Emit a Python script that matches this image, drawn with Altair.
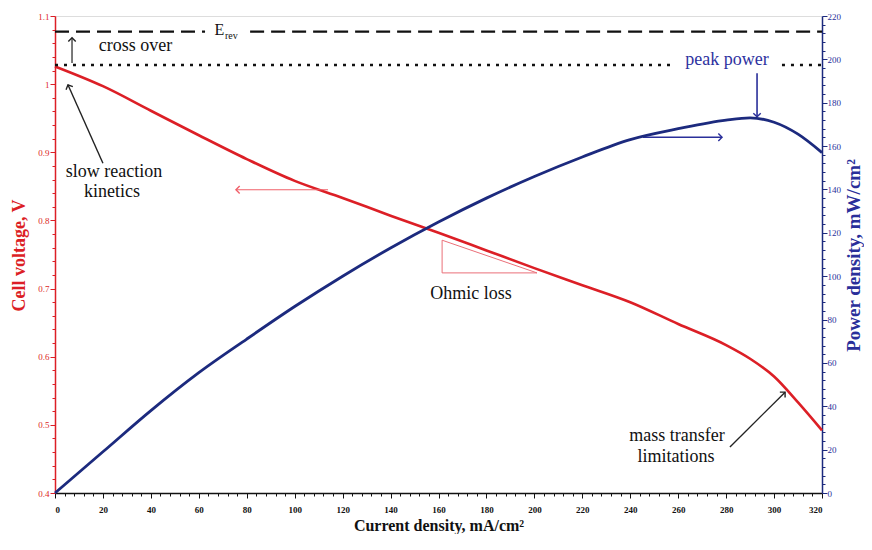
import altair as alt
import pandas as pd

# ---- data ----
current = [0, 20, 40, 60, 80, 100, 120, 140, 160, 180, 200, 220, 240, 260, 280, 290, 300, 310, 320]
voltage = [1.026, 0.997, 0.961, 0.925, 0.890, 0.858, 0.833, 0.807, 0.782, 0.756, 0.730,
           0.705, 0.680, 0.648, 0.617, 0.597, 0.571, 0.533, 0.492]
power = [0, 19, 38, 55.5, 71, 86, 100, 113, 125, 136, 146, 155, 163, 168, 172, 173,
         171, 165.5, 157]

e_rev = 1.077
ocv = 1.028

# dashed (E_rev) and dotted (OCV) line pieces
dash_x = [0, 81.4]
dash_x2 = [62.6, 320]
dot_x = [0, 303.3]
dot_x2 = [258.7, 320]

# arrows: tail (x, v) -> tip (x2, v2)
arr_x = [20.0, 7.1, 113.9, 245.3, 292.9, 281.6]
arr_v = [0.884, 1.031, 0.845, 0.922, 1.016, 0.4675]
arr_x2 = [5.4, 7.1, 75.5, 278.3, 292.9, 304.6]
arr_v2 = [0.999, 1.068, 0.845, 0.922, 0.952, 0.548]
arr_angle = [336, 0, 270, 90, 180, 45]
arr_color = ["#222222", "#222222", "#f0606a", "#2a2f9a", "#2a2f9a", "#222222"]
arr_width = [1.4, 1.2, 1.2, 1.6, 1.6, 1.4]

# ohmic-loss triangle
tri_x = [161.5, 161.5, 161.5]
tri_v = [0.771, 0.723, 0.771]
tri_x2 = [161.5, 201.1, 201.1]
tri_v2 = [0.723, 0.723, 0.723]

# annotation texts (centre positions)
txt = ["E", "rev", "cross over", "slow reaction", "kinetics", "peak power",
       "Ohmic loss", "mass transfer", "limitations"]
txt_x = [68.6, 73.6, 33.6, 24.6, 23.8, 280.4, 173.6, 259.5, 259.1]
txt_v = [1.079, 1.0710, 1.056, 0.871, 0.842, 1.035, 0.692, 0.4836, 0.4528]
txt_size = [16, 10, 18, 18, 18, 18, 18, 18, 18]
txt_color = ["#111111", "#111111", "#111111", "#111111", "#111111", "#2e32a0",
             "#111111", "#111111", "#111111"]

RED = "#dc1f26"
BLUE = "#1c2a7e"
FONT = "Liberation Serif"

x_ticks = list(range(0, 321, 4))
v_ticks = [round(0.4 + 0.02 * i, 2) for i in range(36)]
p_ticks = list(range(0, 221, 4))

v_major = "abs(datum.value*10 - round(datum.value*10)) < 0.001"
i_major = "datum.value % 20 == 0"

x_axis = alt.Axis(
    values=x_ticks, title="Current density, mA/cm²", grid=False,
    labelExpr=f"{i_major} ? format(datum.value, 'd') : ''", labelOverlap=False,
    tickSize={"condition": {"test": i_major, "value": 5}, "value": 3},
    tickColor="#111111", domainColor="#111111", domainWidth=1.5,
    labelFont=FONT, labelFontSize=9, labelFontWeight="bold", labelColor="#111111",
    labelPadding=7,
    titleFont=FONT, titleFontSize=16, titleFontWeight="bold", titleColor="#111111",
    titleY=32, titleBaseline="middle",
)
v_axis = alt.Axis(
    values=v_ticks, title="Cell voltage, V", grid=False, orient="left",
    labelExpr=f"{v_major} ? format(datum.value, '~g') : ''", labelOverlap=False,
    tickSize={"condition": {"test": v_major, "value": 5}, "value": 3},
    tickColor=RED, domainColor=RED, domainWidth=1.5,
    labelFont=FONT, labelFontSize=9, labelColor=RED, labelPadding=1,
    titleFont=FONT, titleFontSize=18, titleFontWeight="bold", titleColor=RED,
    titleX=-36, titleY=239, titleBaseline="middle", titleAngle=270,
)
p_axis = alt.Axis(
    values=p_ticks, title="Power density, mW/cm²", grid=False, orient="right",
    labelExpr=f"{i_major} ? format(datum.value, 'd') : ''", labelOverlap=False,
    tickSize={"condition": {"test": i_major, "value": 5}, "value": 3},
    tickColor=BLUE, domainColor=BLUE, domainWidth=1.5,
    labelFont=FONT, labelFontSize=9, labelColor="#2a2f9a", labelPadding=0,
    titleFont=FONT, titleFontSize=19, titleFontWeight="bold", titleColor="#2a2f9a",
    titleX=31, titleY=239, titleBaseline="middle", titleAngle=270,
)

x_enc = alt.X("x:Q", scale=alt.Scale(domain=[0, 320], nice=False), axis=x_axis)
v_enc = alt.Y("v:Q", scale=alt.Scale(domain=[0.4, 1.1], nice=False, zero=False), axis=v_axis)

curve = pd.DataFrame({"x": current, "v": voltage, "p": power})

red_line = alt.Chart(curve).mark_line(color=RED, strokeWidth=2.6, interpolate="monotone").encode(
    x=x_enc, y=v_enc)

dash_df = pd.DataFrame({"x": dash_x, "x2": dash_x2, "v": [e_rev] * 2})
dashed = alt.Chart(dash_df).mark_rule(color="#111111", strokeWidth=2.4, strokeDash=[14, 7]).encode(
    x=x_enc, x2="x2:Q", y=v_enc)

dot_df = pd.DataFrame({"x": dot_x, "x2": dot_x2, "v": [ocv] * 2})
dotted = alt.Chart(dot_df).mark_rule(color="#111111", strokeWidth=2.4, strokeDash=[3, 6]).encode(
    x=x_enc, x2="x2:Q", y=v_enc)

arr_df = pd.DataFrame({"x": arr_x, "v": arr_v, "x2": arr_x2, "v2": arr_v2,
                       "c": arr_color, "w": arr_width})
arrows = alt.Chart(arr_df).mark_rule().encode(
    x=x_enc, x2="x2:Q", y=v_enc, y2="v2:Q",
    color=alt.Color("c:N", scale=None), strokeWidth=alt.StrokeWidth("w:Q", scale=None))

head_df = pd.DataFrame({"x": arr_x2, "v": arr_v2, "a": arr_angle, "c": arr_color})
heads = alt.Chart(head_df).mark_point(
    shape="M-1,1L0,0L1,1", filled=False, size=55, strokeWidth=1.4, opacity=1).encode(
    x=x_enc, y=v_enc, angle=alt.Angle("a:Q", scale=None),
    color=alt.Color("c:N", scale=None))

tri_df = pd.DataFrame({"x": tri_x, "v": tri_v, "x2": tri_x2, "v2": tri_v2})
triangle = alt.Chart(tri_df).mark_rule(color="#ea6f78", strokeWidth=1).encode(
    x=x_enc, x2="x2:Q", y=v_enc, y2="v2:Q")

txt_df = pd.DataFrame({"t": txt, "x": txt_x, "v": txt_v, "s": txt_size, "c": txt_color})
texts = alt.Chart(txt_df).mark_text(font=FONT, align="center", baseline="middle").encode(
    x=x_enc, y=v_enc, text="t:N",
    size=alt.Size("s:Q", scale=None), color=alt.Color("c:N", scale=None))

v_group = alt.layer(red_line, dashed, dotted, triangle, arrows, heads, texts)

blue_line = alt.Chart(curve).mark_line(color=BLUE, strokeWidth=2.8, interpolate="monotone").encode(
    x=x_enc,
    y=alt.Y("p:Q", scale=alt.Scale(domain=[0, 220], nice=False), axis=p_axis))

chart = alt.layer(v_group, blue_line).resolve_scale(y="independent").properties(
    width=767, height=477, autosize="none",
    padding={"left": 47, "top": 8, "right": 42, "bottom": 41},
).configure_view(strokeWidth=0).configure(background="white")

chart.save("out.html", embed_options={"renderer": "svg", "actions": False})
